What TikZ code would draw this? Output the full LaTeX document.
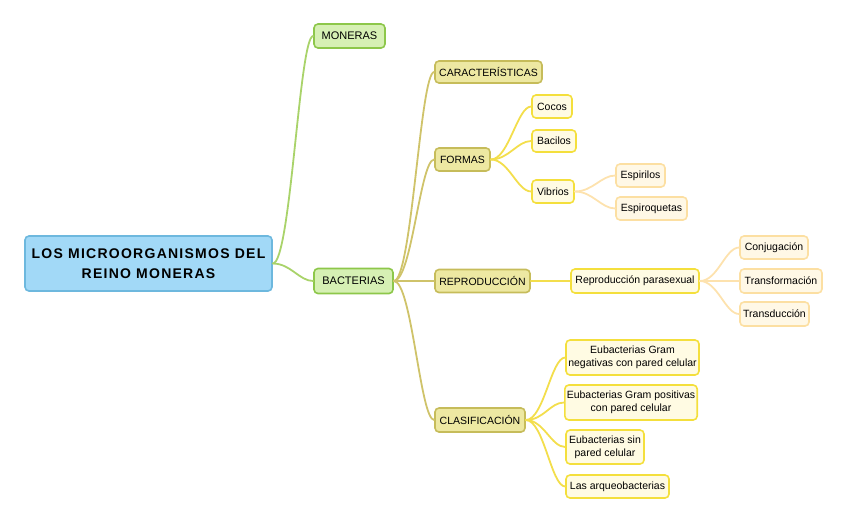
\documentclass[tikz,border=0pt]{standalone}
\usepackage{fontspec}
\setmainfont{Liberation Sans}
\newfontfamily\titlefont[LetterSpace=9]{Liberation Sans}
\definecolor{rootfill}{HTML}{A2D9F7}
\definecolor{rootline}{HTML}{6DB8DE}
\definecolor{greenfill}{HTML}{D6F0B4}
\definecolor{greenline}{HTML}{8DC74A}
\definecolor{greenlink}{HTML}{A9D36A}
\definecolor{olivefill}{HTML}{EDE8A2}
\definecolor{oliveline}{HTML}{C6BC5A}
\definecolor{olivelink}{HTML}{CFC36A}
\definecolor{yellowfill}{HTML}{FFFBE3}
\definecolor{yellowline}{HTML}{F4DF3C}
\definecolor{yellowlink}{HTML}{F3DE4C}
\definecolor{orangefill}{HTML}{FFF8E6}
\definecolor{orangeline}{HTML}{FCDFA2}
\definecolor{orangelink}{HTML}{FDE2AE}
\begin{document}
\begin{tikzpicture}[
    x=1pt, y=-1pt,
    font=\fontsize{10.5}{13}\selectfont,
    box/.style={draw, line width=1.6pt, rounded corners=4pt, inner sep=2pt, align=center},
    root/.style={box, fill=rootfill, draw=rootline, minimum width=247pt, minimum height=55pt, font=\titlefont\bfseries\fontsize{14}{20}\selectfont},
    topic/.style={box, fill=greenfill, draw=greenline, font=\fontsize{11}{13}\selectfont},
    branch/.style={box, fill=olivefill, draw=oliveline},
    leaf/.style={box, fill=yellowfill, draw=yellowline},
    twig/.style={box, fill=orangefill, draw=orangeline},
    link/.style={line width=1.8pt, line cap=round, out=0, in=180, out distance=18pt, in distance=14pt}
]
    \useasboundingbox (0,0) rectangle (848,523);

    \node[root] (root) at (148.5,263.5) {LOS MICROORGANISMOS DEL\\REINO MONERAS};

    \node[topic, minimum width=71pt, minimum height=24pt] (moneras) at (349.5,36) {MONERAS};
    \node[topic, minimum width=79pt, minimum height=25pt] (bacterias) at (353.5,281) {BACTERIAS};

    \node[branch, minimum width=107pt, minimum height=22pt] (caract) at (488.5,72) {CARACTERÍSTICAS};
    \node[branch, minimum width=55pt, minimum height=23pt] (formas) at (462.5,159.5) {FORMAS};
    \node[branch, minimum width=95pt, minimum height=23pt] (reprod) at (482.5,281) {REPRODUCCIÓN};
    \node[branch, minimum width=90pt, minimum height=24pt] (clasif) at (480,420) {CLASIFICACIÓN};

    \node[leaf, minimum width=40pt, minimum height=23pt] (cocos) at (552,106.5) {Cocos};
    \node[leaf, minimum width=44pt, minimum height=22pt] (bacilos) at (554,141) {Bacilos};
    \node[leaf, minimum width=42pt, minimum height=23pt] (vibrios) at (553,191.5) {Vibrios};
    \node[twig, minimum width=49pt, minimum height=23pt] (espirilos) at (640.5,175.5) {Espirilos};
    \node[twig, minimum width=71pt, minimum height=23pt] (espiroq) at (651.5,208.5) {Espiroquetas};

    \node[leaf, minimum width=128pt, minimum height=24pt] (parasex) at (635,281) {Reproducción parasexual};
    \node[twig, minimum width=68pt, minimum height=23pt] (conjug) at (774,247.5) {Conjugación};
    \node[twig, minimum width=82pt, minimum height=24pt] (transf) at (781,281) {Transformación};
    \node[twig, minimum width=69pt, minimum height=24pt] (transd) at (774.5,314) {Transducción};

    \node[leaf, minimum width=133pt, minimum height=35pt] (gramneg) at (632.5,357.5) {Eubacterias Gram\\negativas con pared celular};
    \node[leaf, minimum width=130pt, minimum height=35pt] (grampos) at (631,402.5) {Eubacterias Gram positivas\\con pared celular};
    \node[leaf, minimum width=78pt, minimum height=34pt] (sinpared) at (605,447) {Eubacterias sin\\pared celular};
    \node[leaf, minimum width=103pt, minimum height=23pt] (arqueo) at (617.5,486.5) {Las arqueobacterias};

    % connectors
    \draw[link, greenlink] (root.east) to (moneras.west);
    \draw[link, greenlink] (root.east) to (bacterias.west);
    \foreach \child in {caract, formas, reprod, clasif}
        \draw[link, olivelink] (bacterias.east) to (\child.west);
    \foreach \child in {cocos, bacilos, vibrios}
        \draw[link, yellowlink] (formas.east) to (\child.west);
    \foreach \child in {espirilos, espiroq}
        \draw[link, orangelink] (vibrios.east) to (\child.west);
    \draw[link, yellowlink] (reprod.east) to (parasex.west);
    \foreach \child in {conjug, transf, transd}
        \draw[link, orangelink] (parasex.east) to (\child.west);
    \foreach \child in {gramneg, grampos, sinpared, arqueo}
        \draw[link, yellowlink] (clasif.east) to (\child.west);
\end{tikzpicture}
\end{document}
